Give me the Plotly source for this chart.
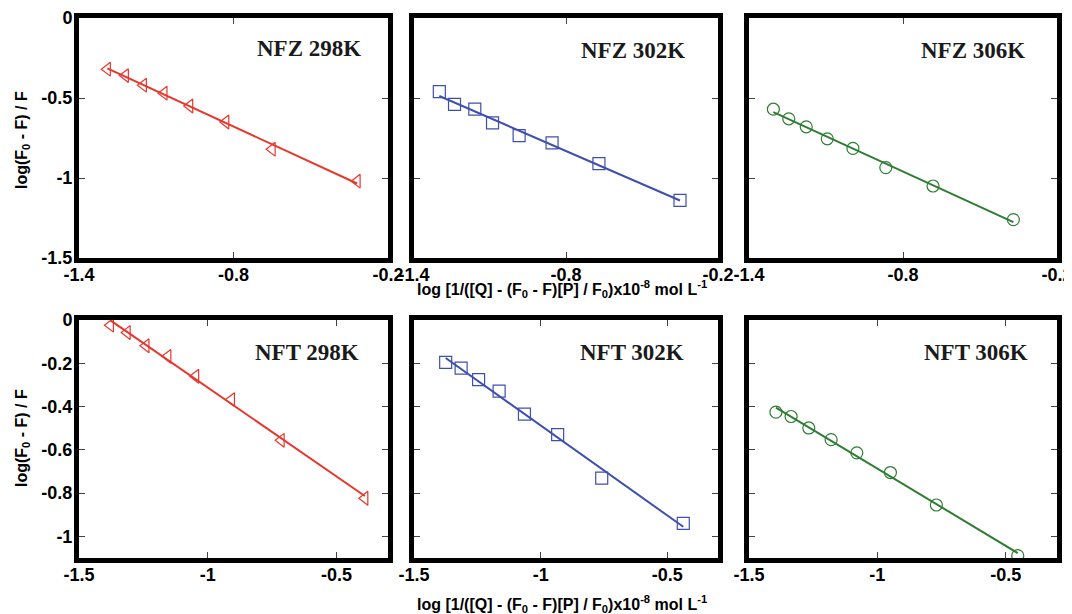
import numpy as np
import plotly.graph_objects as go
from plotly.subplots import make_subplots

W, H = 1072, 614
OFF = 8  # page body margin offset in the browser

# ---- data ----
NFZ298_x = [-1.29, -1.22, -1.15, -1.07, -0.97, -0.83, -0.65, -0.32]
NFZ298_y = [-0.32, -0.36, -0.42, -0.47, -0.55, -0.65, -0.82, -1.02]

NFZ302_x = [-1.30, -1.24, -1.16, -1.09, -0.985, -0.855, -0.67, -0.35]
NFZ302_y = [-0.46, -0.54, -0.57, -0.655, -0.735, -0.78, -0.91, -1.14]

NFZ306_x = [-1.305, -1.245, -1.177, -1.095, -0.995, -0.867, -0.683, -0.37]
NFZ306_y = [-0.57, -0.63, -0.68, -0.755, -0.815, -0.935, -1.05, -1.26]

NFT298_x = [-1.378, -1.313, -1.24, -1.155, -1.047, -0.908, -0.715, -0.39]
NFT298_y = [-0.024, -0.058, -0.119, -0.168, -0.26, -0.368, -0.556, -0.824]

NFT302_x = [-1.375, -1.314, -1.245, -1.164, -1.064, -0.933, -0.759, -0.437]
NFT302_y = [-0.196, -0.222, -0.276, -0.329, -0.435, -0.53, -0.731, -0.94]

NFT306_x = [-1.395, -1.336, -1.267, -1.18, -1.08, -0.949, -0.77, -0.453]
NFT306_y = [-0.426, -0.446, -0.499, -0.553, -0.614, -0.705, -0.855, -1.089]

panel_labels = ["NFZ 298K", "NFZ 302K", "NFZ 306K", "NFT 298K", "NFT 302K", "NFT 306K"]

top_xticks = [-1.4, -0.8, -0.2]
top_xticklabels = ["-1.4", "-0.8", "-0.2"]
top_yticks = [0, -0.5, -1, -1.5]
top_yticklabels = ["0", "-0.5", "-1", "-1.5"]
bot_xticks = [-1.5, -1, -0.5]
bot_xticklabels = ["-1.5", "-1", "-0.5"]
bot_yticks = [0, -0.2, -0.4, -0.6, -0.8, -1]
bot_yticklabels = ["0", "-0.2", "-0.4", "-0.6", "-0.8", "-1"]

RED, BLUE, GREEN = "#e8362c", "#3f4fae", "#2f7d34"

panels = [
    (NFZ298_x, NFZ298_y, "triangle-left-open", RED),
    (NFZ302_x, NFZ302_y, "square-open", BLUE),
    (NFZ306_x, NFZ306_y, "circle-open", GREEN),
    (NFT298_x, NFT298_y, "triangle-left-open", RED),
    (NFT302_x, NFT302_y, "square-open", BLUE),
    (NFT306_x, NFT306_y, "circle-open", GREEN),
]

fig = make_subplots(rows=2, cols=3)

for i, (xs, ys, sym, col) in enumerate(panels):
    r, c = i // 3 + 1, i % 3 + 1
    k = np.polyfit(xs, ys, 1)
    xl = np.array([min(xs), max(xs)])
    fig.add_trace(go.Scatter(x=xl, y=np.polyval(k, xl), mode="lines",
                             line=dict(color=col, width=2), showlegend=False,
                             hoverinfo="skip"), row=r, col=c)
    fig.add_trace(go.Scatter(x=xs, y=ys, mode="markers", showlegend=False,
                             marker=dict(symbol=sym, size=12, color=col,
                                         line=dict(width=1.2, color=col))),
                  row=r, col=c)

# pixel geometry of plot areas (inner edges), in screenshot pixels
col_px = [(79, 388), (414, 718), (749, 1057)]
row_px = [(18, 258), (320, 558)]


def fx(p):
    return (p - OFF) / W


def fy(p):
    return 1 - (p - OFF) / H


tickfont = dict(family="Liberation Sans", size=18, color="black", weight=700)
base = dict(showline=True, linewidth=5, linecolor="black", mirror="allticks",
            ticks="inside", ticklen=6, tickwidth=1, tickcolor="#444",
            showgrid=False, zeroline=False, tickfont=tickfont, fixedrange=True,
            automargin=False, ticklabeloverflow="allow")


def bold(lst):
    return ["<b>%s</b>" % s for s in lst]


for i in range(6):
    r, c = i // 3, i % 3
    idx = "" if i == 0 else str(i + 1)
    x0, x1 = col_px[c]
    y0, y1 = row_px[r]
    if r == 0:
        xr, xt, xtl = [-1.4, -0.2], top_xticks, top_xticklabels
        yr, yt, ytl = [-1.5, 0], top_yticks, top_yticklabels
    else:
        xr, xt, xtl = [-1.5, -0.3], bot_xticks, bot_xticklabels
        yr, yt, ytl = [-1.1, 0], bot_yticks, bot_yticklabels
    fig.layout["xaxis" + idx].update(domain=[fx(x0), fx(x1)], range=xr,
                                     tickvals=xt, ticktext=bold(xtl),
                                     ticklabelstandoff=-4, **base)
    fig.layout["yaxis" + idx].update(domain=[fy(y1), fy(y0)], range=yr,
                                     tickvals=yt, ticktext=bold(ytl),
                                     ticklabelstandoff=-2,
                                     showticklabels=(c == 0), **base)

ann = []
label_pos = [(309, 48), (633, 50), (973, 50), (307, 352), (632, 352), (976, 352)]
for lab, (px, py) in zip(panel_labels, label_pos):
    ann.append(dict(text="<b>%s</b>" % lab, x=fx(px), y=fy(py), xref="paper", yref="paper",
                    xanchor="center", yanchor="middle", showarrow=False,
                    font=dict(family="Liberation Serif", size=23, color="#1a1a1a")))

xtitle = "<b>log [1/([Q] - (F<sub>0</sub> - F)[P] / F<sub>0</sub>)x10<sup>-8</sup> mol L<sup>-1</sup></b>"
ytitle = "<b>log(F<sub>0</sub> - F) / F</b>"
titlefont = dict(family="Liberation Sans", size=16, color="black", weight=700)
for py in (289, 604):
    ann.append(dict(text=xtitle, x=fx(562), y=fy(py), xref="paper", yref="paper",
                    xanchor="center", yanchor="middle", showarrow=False, font=titlefont))
for py in (140, 438):
    ann.append(dict(text=ytitle, x=fx(22), y=fy(py), xref="paper", yref="paper",
                    xanchor="center", yanchor="middle", showarrow=False,
                    textangle=-90, font=titlefont))

fig.update_layout(width=W, height=H, margin=dict(l=0, r=0, t=0, b=0),
                  paper_bgcolor="white", plot_bgcolor="white",
                  annotations=ann, showlegend=False)

fig.write_html("out.html")
